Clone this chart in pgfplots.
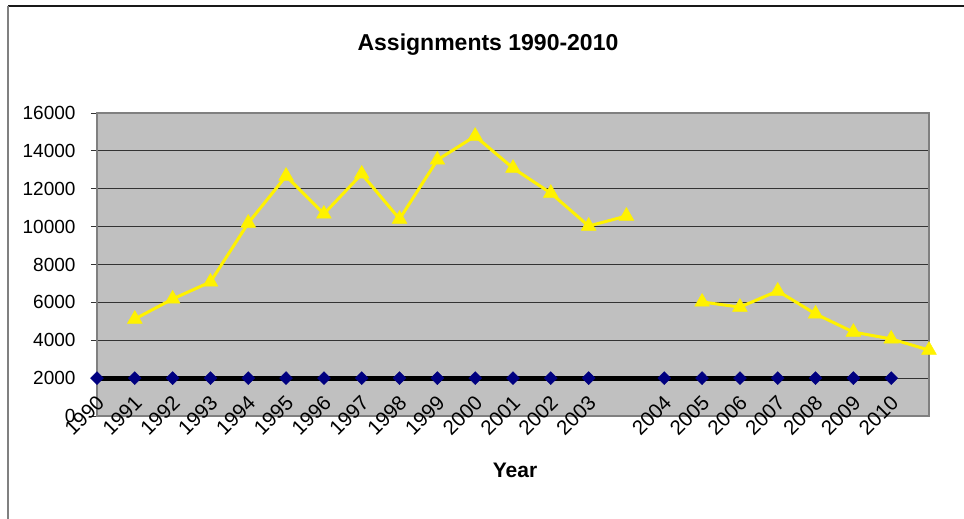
\documentclass[border=0pt]{standalone}
\usepackage{fontspec}
\setmainfont{Liberation Sans}
\usepackage{pgfplots}
\pgfplotsset{compat=1.18}
\definecolor{plotgray}{RGB}{192,192,192}
\definecolor{navyc}{RGB}{0,0,128}
\begin{document}
\begin{tikzpicture}[x=1pt,y=1pt]
\useasboundingbox (0,0) rectangle (964,519);
\draw[black!90, line width=1.2pt] (8,513) -- (964,513);
\draw[black!50, line width=1.5pt] (8,0) -- (8,513);
\node[font=\fontsize{23}{26}\selectfont\bfseries] at (488,474) {Assignments 1990-2010};
\node[font=\fontsize{21}{24}\selectfont\bfseries] at (515,49) {Year};
\begin{axis}[
  at={(97pt,103pt)}, anchor=south west, scale only axis,
  width=832pt, height=303pt,
  xmin=0, xmax=22, ymin=0, ymax=16000,
  xtick={0,...,22},
  xticklabels={1990,1991,1992,1993,1994,1995,1996,1997,1998,1999,2000,2001,2002,2003,,2004,2005,2006,2007,2008,2009,2010,},
  ytick={0,2000,...,16000},
  scaled y ticks=false,
  /pgf/number format/assume math mode=true,
  yticklabel={\pgfmathprintnumber[fixed,1000 sep={}]{\tick}},
  ymajorgrids,
  major grid style={black!80, line width=0.9pt},
  axis background/.style={fill=plotgray},
  axis line style={draw=black!50, line width=1.5pt},
  tick align=outside, ytick pos=left,
  major tick length=6pt,
  ytick style={black!80, line width=0.9pt},
  xtick style={draw=none},
  yticklabel style={font=\fontsize{19}{22}\selectfont, xshift=-12pt},
  xticklabel style={font=\fontsize{20.5}{23}\selectfont, xshift=6pt, yshift=25pt, rotate=45, anchor=east},
  unbounded coords=jump,
  clip=false,
]
\addplot[black, line width=5pt, no markers] coordinates {
(0,2000)(1,2000)(2,2000)(3,2000)(4,2000)(5,2000)(6,2000)(7,2000)(8,2000)(9,2000)(10,2000)(11,2000)(12,2000)(13,2000)(15,2000)(16,2000)(17,2000)(18,2000)(19,2000)(20,2000)(21,2000)};
\addplot[only marks, mark=diamond*, mark size=6.5pt, mark options={fill=navyc, draw=navyc, xscale=1.33}] coordinates {
(0,2000)(1,2000)(2,2000)(3,2000)(4,2000)(5,2000)(6,2000)(7,2000)(8,2000)(9,2000)(10,2000)(11,2000)(12,2000)(13,2000)(15,2000)(16,2000)(17,2000)(18,2000)(19,2000)(20,2000)(21,2000)};
\addplot[yellow, line width=3pt, mark=triangle*, mark size=8.5pt, mark options={fill=yellow, draw=yellow, line width=0.5pt}] coordinates {
(1,5120)(2,6180)(3,7080)(4,10190)(5,12670)(6,10670)(7,12780)(8,10400)(9,13520)(10,14780)(11,13090)(12,11770)(13,10030)(14,10560)(15,nan)(16,6020)(17,5750)(18,6600)(19,5390)(20,4430)(21,4070)(22,3480)};
\end{axis}
\end{tikzpicture}
\end{document}
